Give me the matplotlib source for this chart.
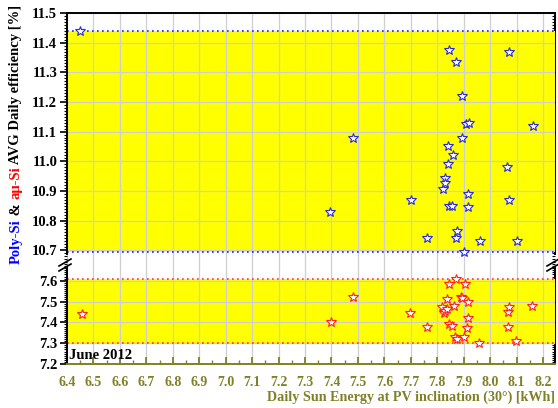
import numpy as np
import matplotlib
matplotlib.use("Agg")
import matplotlib.pyplot as plt
from matplotlib.lines import Line2D
from matplotlib.ticker import MultipleLocator

plt.rcParams['font.family'] = ['Liberation Serif', 'DejaVu Serif']
plt.rcParams['font.weight'] = 'bold'

# daily sun energy [kWh] and average daily efficiency [%], June 2012
poly_energy = [6.45, 7.395, 7.48, 7.70, 7.76, 7.82, 7.83, 7.83, 7.84, 7.84,
               7.845, 7.845, 7.855, 7.86, 7.87, 7.87, 7.875, 7.895, 7.895, 7.90,
               7.91, 7.92, 7.915, 7.915, 7.96, 8.065, 8.07, 8.07, 8.10, 8.16]
poly_eff = [11.44, 10.83, 11.08, 10.87, 10.74, 10.905, 10.945, 10.925, 10.99, 11.05,
            11.375, 10.85, 10.85, 11.02, 11.335, 10.74, 10.765, 11.22, 11.08, 10.693,
            11.125, 11.13, 10.89, 10.845, 10.73, 10.98, 10.87, 11.37, 10.73, 11.12]

asi_energy = [6.457, 7.398, 7.482, 7.697, 7.762, 7.818, 7.826, 7.83, 7.837, 7.837,
              7.845, 7.845, 7.856, 7.864, 7.867, 7.871, 7.875, 7.89, 7.894, 7.90,
              7.905, 7.913, 7.917, 7.917, 7.958, 8.068, 8.068, 8.072, 8.098, 8.159]
asi_eff = [7.44, 7.40, 7.52, 7.446, 7.378, 7.475, 7.446, 7.455, 7.465, 7.513,
           7.586, 7.393, 7.383, 7.48, 7.33, 7.61, 7.32, 7.523, 7.518, 7.33,
           7.586, 7.374, 7.499, 7.422, 7.30, 7.45, 7.378, 7.475, 7.311, 7.48]

top_ticks = [10.7, 10.8, 10.9, 11.0, 11.1, 11.2, 11.3, 11.4, 11.5]
bottom_ticks = [7.2, 7.3, 7.4, 7.5, 7.6]
month_label = "June 2012"

OLIVE = '#808028'
W, H = 558, 408
fig = plt.figure(figsize=(W / 100, H / 100), dpi=100)


def rect(x0, y0, x1, y1):
    # pixel box (origin top-left) -> figure fraction
    return [x0 / W, 1 - y1 / H, (x1 - x0) / W, (y1 - y0) / H]


ax_top = fig.add_axes(rect(67, 13, 555, 262))
ax_bot = fig.add_axes(rect(67, 262, 555, 364))

panels = [
    (ax_top, poly_energy, poly_eff, '#2a2ae0', '#2020ff', (10.66, 11.5), top_ticks, (10.688, 11.5)),
    (ax_bot, asi_energy, asi_eff, '#ff2020', '#ff3333', (7.2, 7.69), bottom_ticks, (7.2, 7.662)),
]

for ax, xs, ys, edge, dotc, ylim, yticks, bounds in panels:
    ax.set_xlim(6.4, 8.245)
    ax.set_ylim(*ylim)
    ax.set_axisbelow(True)
    ax.xaxis.set_major_locator(MultipleLocator(0.1))
    ax.xaxis.set_minor_locator(MultipleLocator(0.05))
    ax.set_yticks(yticks)
    ax.yaxis.set_minor_locator(MultipleLocator(0.01))
    ax.grid(True, which='major', color='#cfcfcf', lw=0.9)

    lo, hi = min(ys), max(ys)
    ax.axhspan(lo, hi, color='#ffff00', zorder=0.2, lw=0)
    ax.axhline(lo, color=dotc, ls=(0, (1, 2)), lw=1.2, zorder=0.6)
    ax.axhline(hi, color=dotc, ls=(0, (1, 2)), lw=1.2, zorder=0.6)

    ax.plot(xs, ys, ls='none', marker='*', ms=7.5, mfc='white', mec=edge,
            mew=0.8, zorder=3)

    ax.tick_params(axis='y', which='both', left=True, right=False, direction='out',
                   labelsize=10.5, pad=2, colors='black')
    ax.tick_params(axis='y', which='major', length=5, width=1.2)
    ax.tick_params(axis='y', which='minor', length=2.5, width=0.8)
    for lab in ax.get_yticklabels():
        lab.set_fontweight('bold')

    ax.spines['left'].set_bounds(*bounds)
    ax.spines['right'].set_visible(False)
    for s in ax.spines.values():
        s.set_linewidth(1.4)

    # right-hand ticks point into the plot
    sec = ax.secondary_yaxis('right')
    sec.set_yticks(yticks)
    sec.yaxis.set_minor_locator(MultipleLocator(0.01))
    sec.tick_params(axis='y', which='both', direction='in', labelright=False)
    sec.tick_params(axis='y', which='major', length=5, width=1.2)
    sec.tick_params(axis='y', which='minor', length=2.5, width=0.8)
    sec.spines['right'].set_linewidth(1.4)
    sec.spines['right'].set_bounds(*bounds)

ax_top.spines['bottom'].set_visible(False)
ax_top.tick_params(axis='x', which='both', bottom=False, top=False, labelbottom=False)

ax_bot.spines['top'].set_visible(False)
ax_bot.spines['bottom'].set_color(OLIVE)
ax_bot.tick_params(axis='x', which='both', direction='in', colors=OLIVE,
                   labelsize=10, pad=9)
ax_bot.tick_params(axis='x', which='major', length=5, width=1.3)
ax_bot.tick_params(axis='x', which='minor', length=3, width=1.0)
for lab in ax_bot.get_xticklabels():
    lab.set_fontweight('bold')

ax_bot.text(6.408, 7.243, month_label, ha='left', va='center', fontsize=10.5,
            fontweight='bold', color='black')

# axis break marks on both side spines
for xs in (67, 555):
    for dy in (0, 5):
        fig.add_artist(Line2D([(xs - 8) / W, (xs + 4) / W],
                              [1 - (266 + dy) / H, 1 - (259 + dy) / H],
                              color='black', lw=1.2))

fig.text(555 / W, 1 - 397 / H, "Daily Sun Energy at PV inclination (30°) [kWh]",
         ha='right', va='center', fontsize=10.2, fontweight='bold', color=OLIVE)

# multicolour y label, stacked bottom to top
renderer = fig.canvas.get_renderer()
parts = [("Poly-Si", 'blue'), (" & ", 'black'), ("aμ-Si", 'red'),
         (" AVG Daily efficiency [%]", 'black')]
texts = [fig.text(0, 0, s, color=c, rotation=90, rotation_mode='anchor',
                  ha='left', va='center', fontsize=10.5, fontweight='bold')
         for s, c in parts]
lengths = [t.get_window_extent(renderer).height for t in texts]
y = (H - 134) - sum(lengths) / 2
for t, L in zip(texts, lengths):
    t.set_position((16 / W, y / H))
    y += L

fig.savefig("out.png", dpi=100)
